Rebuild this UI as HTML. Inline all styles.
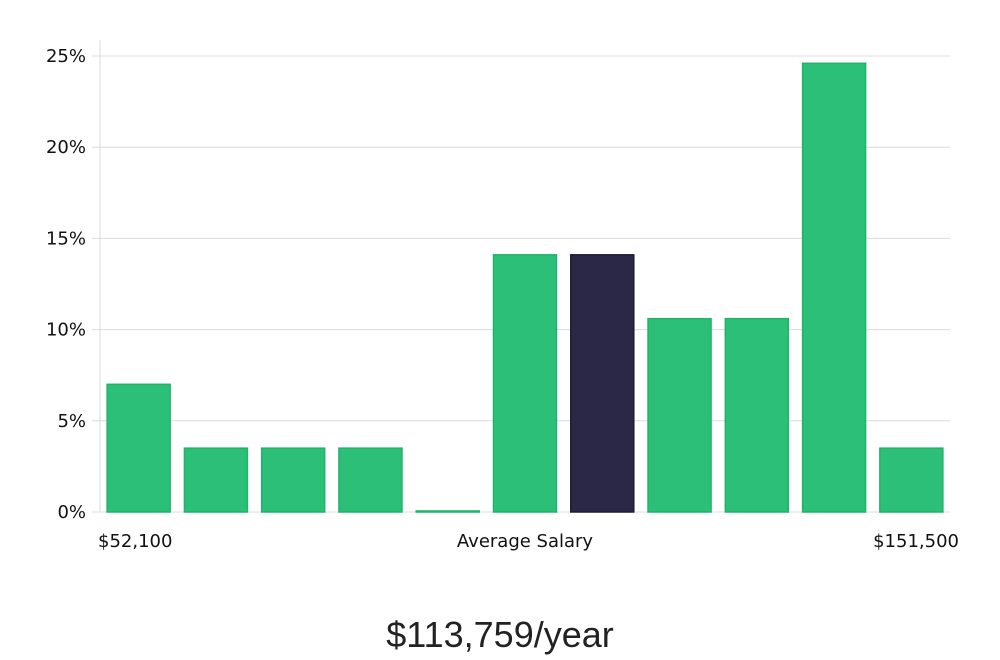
<!DOCTYPE html>
<html><head><meta charset="utf-8"><style>
html,body{margin:0;padding:0;background:#fff;width:1000px;height:660px;overflow:hidden}
svg text{font-family:"DejaVu Sans","Liberation Sans",sans-serif}
</style></head><body>
<svg id="chart" width="1000" height="660" viewBox="0 0 1000 660" xmlns="http://www.w3.org/2000/svg">
<g id="grid"></g>
<g id="bars"></g>
<line x1="100" y1="40" x2="100" y2="512" stroke="#d9d9d9" stroke-width="1"/>
<text x="98" y="547" font-size="18" fill="#111">$52,100</text>
<text x="525" y="547" font-size="18" fill="#111" text-anchor="middle">Average Salary</text>
<text x="959" y="547" font-size="18" fill="#111" text-anchor="end">$151,500</text>
<text x="500" y="647" font-size="36" fill="#222" text-anchor="middle" style="font-family:'Liberation Sans',sans-serif;font-weight:300">$113,759/year</text>
</svg>
<script>
const values = [7.0, 3.5, 3.5, 3.5, 0, 14.1, 14.1, 10.6, 10.6, 24.6, 3.5];
const highlightIndex = 6;
const yTicks = [0, 5, 10, 15, 20, 25];
const NS = "http://www.w3.org/2000/svg";
const x0 = 100, x1 = 950, yBase = 512, yTop = 56, yMax = 25;
const yScale = v => yBase - (v / yMax) * (yBase - yTop);
const slot = (x1 - x0) / values.length;
const bw = 63;
const grid = document.getElementById('grid');
yTicks.forEach(t => {
  const y = yScale(t);
  const l = document.createElementNS(NS, 'line');
  
  
  l.setAttribute('x1', 92); l.setAttribute('x2', x1);
  l.setAttribute('y1', y); l.setAttribute('y2', y);
  l.setAttribute('stroke', '#dcdcdc'); l.setAttribute('stroke-width', '1');
  grid.appendChild(l);
  const tx = document.createElementNS(NS, 'text');
  
  
  tx.setAttribute('x', 86); tx.setAttribute('y', y + 6);
  tx.setAttribute('text-anchor', 'end'); tx.setAttribute('font-size', '18'); tx.setAttribute('fill', '#111');
  tx.textContent = t + '%';
  grid.appendChild(tx);
});
const bars = document.getElementById('bars');
values.forEach((v, i) => {
  const r = document.createElementNS(NS, 'rect');
  
  
  const y = yScale(v);
  const h = Math.max(yBase - y, 1);
  r.setAttribute('x', x0 + i * slot + (slot - bw) / 2);
  r.setAttribute('y', yBase - h);
  r.setAttribute('width', bw);
  r.setAttribute('height', h);
  const hi = i === highlightIndex;
  r.setAttribute('fill', hi ? '#2a2747' : '#2bbf77');
  r.setAttribute('stroke', hi ? '#1c1a3a' : '#1fb36c');
  r.setAttribute('stroke-width', '1.5');
  bars.appendChild(r);
});
</script>
</body></html>
